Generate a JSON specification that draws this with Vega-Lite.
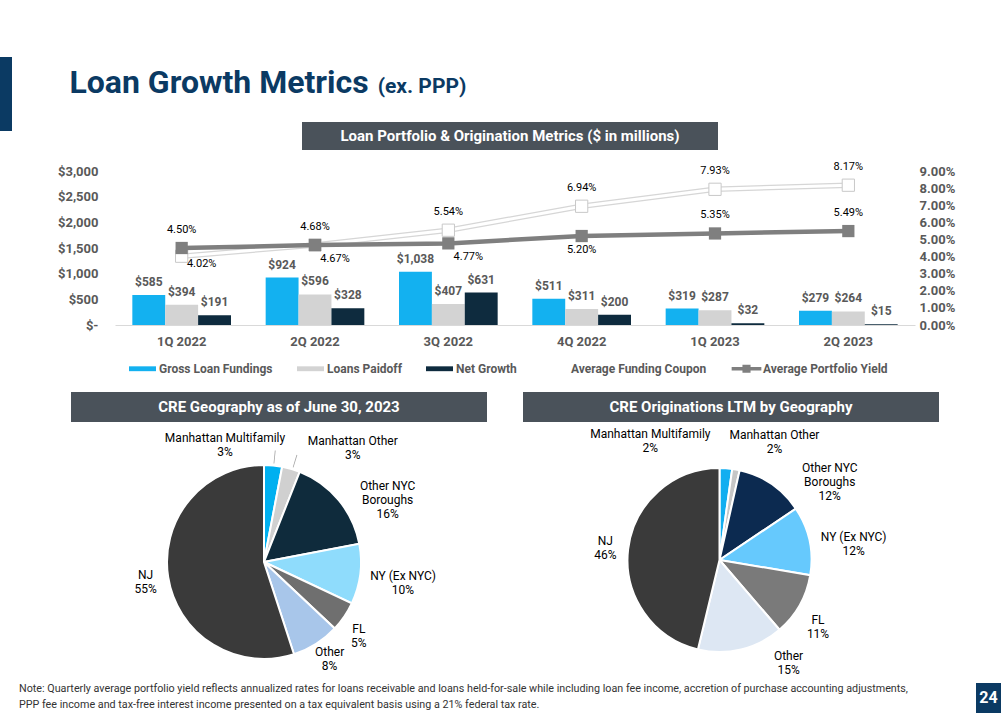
{
  "$schema": "https://vega.github.io/schema/vega-lite/v6.json",
  "background": "#ffffff",
  "padding": 0,
  "spacing": 0,
  "bounds": "flush",
  "resolve": {"scale": {"color": "independent", "theta": "independent", "x": "independent", "y": "independent"}, "legend": {"color": "independent"}},
  "config": {
    "font": "Roboto",
    "view": {"stroke": null},
    "style": {
      "pielbl": {"fontSize": 12, "fill": "#404040", "lineBreak": "\n", "lineHeight": 14, "baseline": "middle", "align": "center"},
      "ratelbl": {"fontSize": 11, "fill": "#595959", "baseline": "middle", "align": "center"}
    }
  },
  "datasets": {
    "bars": [
      {"q": "1Q 2022", "s": "Gross Loan Fundings", "v": 585},
      {"q": "1Q 2022", "s": "Loans Paidoff", "v": 394},
      {"q": "1Q 2022", "s": "Net Growth", "v": 191},
      {"q": "2Q 2022", "s": "Gross Loan Fundings", "v": 924},
      {"q": "2Q 2022", "s": "Loans Paidoff", "v": 596},
      {"q": "2Q 2022", "s": "Net Growth", "v": 328},
      {"q": "3Q 2022", "s": "Gross Loan Fundings", "v": 1038},
      {"q": "3Q 2022", "s": "Loans Paidoff", "v": 407},
      {"q": "3Q 2022", "s": "Net Growth", "v": 631},
      {"q": "4Q 2022", "s": "Gross Loan Fundings", "v": 511},
      {"q": "4Q 2022", "s": "Loans Paidoff", "v": 311},
      {"q": "4Q 2022", "s": "Net Growth", "v": 200},
      {"q": "1Q 2023", "s": "Gross Loan Fundings", "v": 319},
      {"q": "1Q 2023", "s": "Loans Paidoff", "v": 287},
      {"q": "1Q 2023", "s": "Net Growth", "v": 32},
      {"q": "2Q 2023", "s": "Gross Loan Fundings", "v": 279},
      {"q": "2Q 2023", "s": "Loans Paidoff", "v": 264},
      {"q": "2Q 2023", "s": "Net Growth", "v": 15}
    ],
    "rates": [
      {"q": "1Q 2022", "s": "Average Funding Coupon", "r": 0.0402},
      {"q": "2Q 2022", "s": "Average Funding Coupon", "r": 0.0468},
      {"q": "3Q 2022", "s": "Average Funding Coupon", "r": 0.0554},
      {"q": "4Q 2022", "s": "Average Funding Coupon", "r": 0.0694},
      {"q": "1Q 2023", "s": "Average Funding Coupon", "r": 0.0793},
      {"q": "2Q 2023", "s": "Average Funding Coupon", "r": 0.0817},
      {"q": "1Q 2022", "s": "Average Portfolio Yield", "r": 0.0450},
      {"q": "2Q 2022", "s": "Average Portfolio Yield", "r": 0.0467},
      {"q": "3Q 2022", "s": "Average Portfolio Yield", "r": 0.0477},
      {"q": "4Q 2022", "s": "Average Portfolio Yield", "r": 0.0520},
      {"q": "1Q 2023", "s": "Average Portfolio Yield", "r": 0.0535},
      {"q": "2Q 2023", "s": "Average Portfolio Yield", "r": 0.0549}
    ],
    "pie1": [
      {"r": "Manhattan Multifamily", "lbl": "Manhattan Multifamily\n3%", "v": 3, "o": 1},
      {"r": "Manhattan Other", "lbl": "Manhattan Other\n3%", "v": 3, "o": 2},
      {"r": "Other NYC Boroughs", "lbl": "Other NYC\nBoroughs\n16%", "v": 16, "o": 3},
      {"r": "NY (Ex NYC)", "lbl": "NY (Ex NYC)\n10%", "v": 10, "o": 4},
      {"r": "FL", "lbl": "FL\n5%", "v": 5, "o": 5},
      {"r": "Other", "lbl": "Other\n8%", "v": 8, "o": 6},
      {"r": "NJ", "lbl": "NJ\n55%", "v": 55, "o": 7}
    ],
    "pie2": [
      {"r": "Manhattan Multifamily", "lbl": "Manhattan Multifamily\n2%", "v": 2.2, "o": 1},
      {"r": "Manhattan Other", "lbl": "Manhattan Other\n2%", "v": 1.3, "o": 2},
      {"r": "Other NYC Boroughs", "lbl": "Other NYC\nBoroughs\n12%", "v": 12, "o": 3},
      {"r": "NY (Ex NYC)", "lbl": "NY (Ex NYC)\n12%", "v": 12, "o": 4},
      {"r": "FL", "lbl": "FL\n11%", "v": 11, "o": 5},
      {"r": "Other", "lbl": "Other\n15%", "v": 15, "o": 6},
      {"r": "NJ", "lbl": "NJ\n46%", "v": 46, "o": 7}
    ]
  },
  "vconcat": [
    {"vconcat": [
      {"width": 1, "height": 57, "data": {"values": []}, "mark": "point"},
      {"width": 12, "height": 74, "view": {"fill": "#0b3a63"}, "data": {"values": []}, "mark": "point"}
    ], "spacing": 0, "bounds": "flush"},

    {"concat": [
      {"width": 70, "height": 60, "data": {"values": []}, "mark": "point"},
      {"width": 1, "height": 1, "data": {"values": []}, "mark": "point"},
      {"width": 1, "height": 1, "data": {"values": []}, "mark": "point"},
      {"width": 298, "height": 66, "data": {"values": [{"t": "Loan Growth Metrics"}]},
       "mark": {"type": "text", "fontSize": 32, "fontWeight": "bold", "color": "#0b3a63", "baseline": "alphabetic", "align": "center"},
       "encoding": {"text": {"field": "t", "type": "nominal"}}}
    ], "columns": 2, "spacing": 0, "bounds": "flush", "align": "each"},

    {"concat": [
      {"width": 368, "height": 60, "data": {"values": []}, "mark": "point"},
      {"width": 1, "height": 1, "data": {"values": []}, "mark": "point"},
      {"width": 1, "height": 1, "data": {"values": []}, "mark": "point"},
      {"width": 108, "height": 66, "data": {"values": [{"t": "(ex. PPP)"}]},
       "mark": {"type": "text", "fontSize": 21, "fontWeight": "bold", "color": "#0b3a63", "baseline": "alphabetic", "align": "center"},
       "encoding": {"text": {"field": "t", "type": "nominal"}}}
    ], "columns": 2, "spacing": 0, "bounds": "flush", "align": "each"},

    {"concat": [
      {"width": 302, "height": 122, "data": {"values": []}, "mark": "point"},
      {"width": 1, "height": 1, "data": {"values": []}, "mark": "point"},
      {"width": 1, "height": 1, "data": {"values": []}, "mark": "point"},
      {"width": 416, "height": 28, "view": {"fill": "#4a525a"}, "data": {"values": [{"t": "Loan Portfolio & Origination Metrics ($ in millions)"}]},
       "mark": {"type": "text", "fontSize": 15, "fontWeight": "bold", "color": "#ffffff", "baseline": "middle"},
       "encoding": {"text": {"field": "t", "type": "nominal"}}}
    ], "columns": 2, "spacing": 0, "bounds": "flush", "align": "each"},

    {"concat": [
      {"width": 115, "height": 171, "data": {"values": []}, "mark": "point"},
      {"width": 1, "height": 1, "data": {"values": []}, "mark": "point"},
      {"width": 1, "height": 1, "data": {"values": []}, "mark": "point"},
      {
        "width": 800,
        "height": 154,
        "layer": [
          {
            "data": {"name": "bars"},
            "encoding": {
              "x": {"field": "q", "type": "nominal",
                    "scale": {"domain": ["1Q 2022", "2Q 2022", "3Q 2022", "4Q 2022", "1Q 2023", "2Q 2023"], "paddingInner": 0.26, "paddingOuter": 0.13},
                    "axis": {"title": null, "ticks": false, "domainColor": "#d9d9d9", "labelPadding": 10, "labelAngle": 0, "labelFontSize": 13, "labelFontWeight": "bold", "labelColor": "#595959"}},
              "xOffset": {"field": "s", "type": "nominal", "scale": {"domain": ["Gross Loan Fundings", "Loans Paidoff", "Net Growth"], "paddingInner": 0, "paddingOuter": 0}},
              "y": {"field": "v", "type": "quantitative", "scale": {"domain": [0, 3000], "nice": false},
                    "axis": {"title": null, "values": [0, 500, 1000, 1500, 2000, 2500, 3000], "labelExpr": "datum.value === 0 ? '$-' : '$' + format(datum.value, ',')", "ticks": false, "domain": false, "grid": false, "labelPadding": 17, "labelFontSize": 13, "labelFontWeight": "bold", "labelColor": "#595959"}}
            },
            "layer": [
              {
                "mark": {"type": "bar"},
                "encoding": {
                  "color": {"field": "s", "type": "nominal",
                    "scale": {"domain": ["Gross Loan Fundings", "Loans Paidoff", "Net Growth", "Average Funding Coupon", "Average Portfolio Yield"],
                              "range": ["#13b1f0", "#d3d3d3", "#0e2b3e", "#ffffff", "#7f7f7f"]},
                    "legend": {"orient": "none", "legendX": 129, "legendY": 355, "direction": "horizontal", "title": null,
                               "symbolType": "M-1,-0.18H1V0.18H-1Z", "symbolSize": 729, "symbolStrokeWidth": 0,
                               "labelFontSize": 12, "labelFontWeight": "bold", "labelColor": "#595959", "labelOffset": 3, "columnPadding": 24,
                               "encode": {"symbols": {"update": {"shape": {"signal": "datum.value === 'Average Portfolio Yield' ? 'M-1.1,-0.13H1.1V0.13H-1.1ZM-0.3,-0.3H0.3V0.3H-0.3Z' : 'M-1,-0.18H1V0.18H-1Z'"}}}}}
                  }
                }
              },
              {
                "mark": {"type": "text", "baseline": "alphabetic", "dy": -9, "fontSize": 12, "fontWeight": "bold", "color": "#595959"},
                "encoding": {"text": {"field": "v", "type": "quantitative", "format": "$,d"}}
              }
            ]
          },
          {
            "data": {"name": "rates"},
            "encoding": {
              "x": {"field": "q", "type": "nominal",
                    "scale": {"domain": ["1Q 2022", "2Q 2022", "3Q 2022", "4Q 2022", "1Q 2023", "2Q 2023"], "paddingInner": 0.26, "paddingOuter": 0.13},
                    "axis": {"title": null, "ticks": false, "domainColor": "#d9d9d9", "labelPadding": 10, "labelAngle": 0, "labelFontSize": 13, "labelFontWeight": "bold", "labelColor": "#595959"}},
              "y": {"field": "r", "type": "quantitative", "scale": {"domain": [0, 0.09], "nice": false},
                    "axis": {"orient": "right", "title": null, "values": [0, 0.01, 0.02, 0.03, 0.04, 0.05, 0.06, 0.07, 0.08, 0.09], "format": ".2%", "ticks": false, "domain": false, "grid": false, "labelPadding": 4, "labelFontSize": 13, "labelFontWeight": "bold", "labelColor": "#595959"}}
            },
            "layer": [
              {"transform": [{"filter": "datum.s === 'Average Funding Coupon'"}], "mark": {"type": "line", "color": "#d6d6d6", "strokeWidth": 5.5}},
              {"transform": [{"filter": "datum.s === 'Average Funding Coupon'"}], "mark": {"type": "line", "color": "#ffffff", "strokeWidth": 3}},
              {"transform": [{"filter": "datum.s === 'Average Funding Coupon'"}], "mark": {"type": "point", "shape": "square", "filled": true, "fill": "#ffffff", "stroke": "#c8c8c8", "strokeWidth": 1, "size": 150, "opacity": 1}},
              {"transform": [{"filter": "datum.s === 'Average Portfolio Yield'"}], "mark": {"type": "line", "color": "#7f7f7f", "strokeWidth": 4.5}},
              {"transform": [{"filter": "datum.s === 'Average Portfolio Yield'"}], "mark": {"type": "point", "shape": "square", "filled": true, "color": "#7f7f7f", "size": 150, "opacity": 1}},
              {"transform": [{"filter": "datum.s === 'Average Funding Coupon' && datum.q !== '1Q 2022'"}],
               "mark": {"type": "text", "style": "ratelbl", "dy": -18}, "encoding": {"text": {"field": "r", "type": "quantitative", "format": ".2%"}}},
              {"transform": [{"filter": "datum.s === 'Average Funding Coupon' && datum.q === '1Q 2022'"}],
               "mark": {"type": "text", "style": "ratelbl", "dx": 20, "dy": 8}, "encoding": {"text": {"field": "r", "type": "quantitative", "format": ".2%"}}},
              {"transform": [{"filter": "datum.s === 'Average Portfolio Yield' && (datum.q === '1Q 2022' || datum.q === '1Q 2023' || datum.q === '2Q 2023')"}],
               "mark": {"type": "text", "style": "ratelbl", "dy": -18}, "encoding": {"text": {"field": "r", "type": "quantitative", "format": ".2%"}}},
              {"transform": [{"filter": "datum.s === 'Average Portfolio Yield' && (datum.q === '2Q 2022' || datum.q === '3Q 2022')"}],
               "mark": {"type": "text", "style": "ratelbl", "dx": 20, "dy": 14}, "encoding": {"text": {"field": "r", "type": "quantitative", "format": ".2%"}}},
              {"transform": [{"filter": "datum.s === 'Average Portfolio Yield' && datum.q === '4Q 2022'"}],
               "mark": {"type": "text", "style": "ratelbl", "dy": 14}, "encoding": {"text": {"field": "r", "type": "quantitative", "format": ".2%"}}}
            ]
          }
        ],
        "resolve": {"scale": {"y": "independent"}}
      }
    ], "columns": 2, "spacing": 0, "bounds": "flush", "align": "each"},

    {"concat": [
      {"width": 71, "height": 392, "data": {"values": []}, "mark": "point"},
      {"width": 1, "height": 1, "data": {"values": []}, "mark": "point"},
      {"width": 1, "height": 1, "data": {"values": []}, "mark": "point"},
      {"width": 416, "height": 30, "view": {"fill": "#4a525a"}, "data": {"values": [{"t": "CRE Geography as of June 30, 2023"}]},
       "mark": {"type": "text", "fontSize": 15, "fontWeight": "bold", "color": "#ffffff", "baseline": "middle"},
       "encoding": {"text": {"field": "t", "type": "nominal"}}}
    ], "columns": 2, "spacing": 0, "bounds": "flush", "align": "each"},

    {"concat": [
      {"width": 523, "height": 392, "data": {"values": []}, "mark": "point"},
      {"width": 1, "height": 1, "data": {"values": []}, "mark": "point"},
      {"width": 1, "height": 1, "data": {"values": []}, "mark": "point"},
      {"width": 416, "height": 30, "view": {"fill": "#4a525a"}, "data": {"values": [{"t": "CRE Originations LTM by Geography"}]},
       "mark": {"type": "text", "fontSize": 15, "fontWeight": "bold", "color": "#ffffff", "baseline": "middle"},
       "encoding": {"text": {"field": "t", "type": "nominal"}}}
    ], "columns": 2, "spacing": 0, "bounds": "flush", "align": "each"},

    {"concat": [
      {"width": 71, "height": 465, "data": {"values": []}, "mark": "point"},
      {"width": 1, "height": 1, "data": {"values": []}, "mark": "point"},
      {"width": 1, "height": 1, "data": {"values": []}, "mark": "point"},
      {
        "width": 386,
        "height": 194,
        "data": {"name": "pie1"},
        "layer": [
          {"mark": {"type": "arc", "stroke": "#ffffff", "strokeWidth": 2},
           "encoding": {"theta": {"field": "v", "type": "quantitative", "stack": true},
                        "order": {"field": "o", "type": "quantitative"},
                        "color": {"field": "r", "type": "nominal",
                                  "scale": {"domain": ["Manhattan Multifamily", "Manhattan Other", "Other NYC Boroughs", "NY (Ex NYC)", "FL", "Other", "NJ"],
                                            "range": ["#00b0f0", "#d0d0d0", "#0f2b3c", "#8fdcfc", "#6f6f6f", "#a8c6ea", "#3a3a3a"]},
                                  "legend": null}}},
          {
            "transform": [
              {"stack": "v", "groupby": [], "sort": [{"field": "o", "order": "ascending"}], "as": ["a0", "a1"]},
              {"calculate": "(datum.a0 + datum.a1) / 2", "as": "am"},
              {"filter": "datum.r === 'Manhattan Multifamily' || datum.r === 'Manhattan Other'"},
              {"calculate": "datum.am + (datum.r === 'Manhattan Other' ? 0.25 : 0.1) - 0.06", "as": "l0"},
              {"calculate": "datum.am + (datum.r === 'Manhattan Other' ? 0.25 : 0.1) + 0.06", "as": "l1"}
            ],
            "mark": {"type": "arc", "innerRadius": 99, "outerRadius": 112, "color": "#a6a6a6"},
            "encoding": {"theta": {"field": "l0", "type": "quantitative"}, "theta2": {"field": "l1"}}
          },
          {
            "transform": [
              {"stack": "v", "groupby": [], "sort": [{"field": "o", "order": "ascending"}], "as": ["a0", "a1"]},
              {"calculate": "(datum.a0 + datum.a1) / 2", "as": "am"}
            ],
            "encoding": {"theta": {"field": "am", "type": "quantitative"}, "text": {"field": "lbl", "type": "nominal"}},
            "layer": [
              {"transform": [{"filter": "datum.r === 'Manhattan Multifamily'"}], "mark": {"type": "text", "style": "pielbl", "radius": 128, "dx": -51, "dy": 3}},
              {"transform": [{"filter": "datum.r === 'Manhattan Other'"}], "mark": {"type": "text", "style": "pielbl", "radius": 128, "dx": 53, "dy": 2}},
              {"transform": [{"filter": "datum.r === 'Other NYC Boroughs'"}], "mark": {"type": "text", "style": "pielbl", "radius": 128, "dx": 25, "dy": 6}},
              {"transform": [{"filter": "datum.r === 'NY (Ex NYC)'"}], "mark": {"type": "text", "style": "pielbl", "radius": 128, "dx": 12, "dy": -2}},
              {"transform": [{"filter": "datum.r === 'FL'"}], "mark": {"type": "text", "style": "pielbl", "radius": 128, "dx": -11, "dy": -5}},
              {"transform": [{"filter": "datum.r === 'Other'"}], "mark": {"type": "text", "style": "pielbl", "radius": 128, "dx": -3, "dy": -18}},
              {"transform": [{"filter": "datum.r === 'NJ'"}], "mark": {"type": "text", "style": "pielbl", "radius": 128, "dx": 8, "dy": -7}}
            ]
          }
        ]
      }
    ], "columns": 2, "spacing": 0, "bounds": "flush", "align": "each"},

    {"concat": [
      {"width": 523, "height": 468, "data": {"values": []}, "mark": "point"},
      {"width": 1, "height": 1, "data": {"values": []}, "mark": "point"},
      {"width": 1, "height": 1, "data": {"values": []}, "mark": "point"},
      {
        "width": 393,
        "height": 184,
        "data": {"name": "pie2"},
        "layer": [
          {"mark": {"type": "arc", "stroke": "#ffffff", "strokeWidth": 2},
           "encoding": {"theta": {"field": "v", "type": "quantitative", "stack": true},
                        "order": {"field": "o", "type": "quantitative"},
                        "color": {"field": "r", "type": "nominal",
                                  "scale": {"domain": ["Manhattan Multifamily", "Manhattan Other", "Other NYC Boroughs", "NY (Ex NYC)", "FL", "Other", "NJ"],
                                            "range": ["#12aef0", "#c6c6c6", "#0c2a50", "#66c9fd", "#7a7a7a", "#dde7f3", "#3a3a3a"]},
                                  "legend": null}}},
          {
            "transform": [
              {"stack": "v", "groupby": [], "sort": [{"field": "o", "order": "ascending"}], "as": ["a0", "a1"]},
              {"calculate": "(datum.a0 + datum.a1) / 2", "as": "am"}
            ],
            "encoding": {"theta": {"field": "am", "type": "quantitative"}, "text": {"field": "lbl", "type": "nominal"}},
            "layer": [
              {"transform": [{"filter": "datum.r === 'Manhattan Multifamily'"}], "mark": {"type": "text", "style": "pielbl", "radius": 128, "dx": -78, "dy": 2}},
              {"transform": [{"filter": "datum.r === 'Manhattan Other'"}], "mark": {"type": "text", "style": "pielbl", "radius": 128, "dx": 32, "dy": 1}},
              {"transform": [{"filter": "datum.r === 'Other NYC Boroughs'"}], "mark": {"type": "text", "style": "pielbl", "radius": 128, "dx": 38, "dy": 14}},
              {"transform": [{"filter": "datum.r === 'NY (Ex NYC)'"}], "mark": {"type": "text", "style": "pielbl", "radius": 128, "dx": 9, "dy": 4}},
              {"transform": [{"filter": "datum.r === 'FL'"}], "mark": {"type": "text", "style": "pielbl", "radius": 128, "dx": -13, "dy": -3}},
              {"transform": [{"filter": "datum.r === 'Other'"}], "mark": {"type": "text", "style": "pielbl", "radius": 128, "dx": 39, "dy": -28}},
              {"transform": [{"filter": "datum.r === 'NJ'"}], "mark": {"type": "text", "style": "pielbl", "radius": 128, "dx": 13, "dy": -4}}
            ]
          }
        ]
      }
    ], "columns": 2, "spacing": 0, "bounds": "flush", "align": "each"},

    {"concat": [
      {"width": 19, "height": 659, "data": {"values": []}, "mark": "point"},
      {"width": 1, "height": 1, "data": {"values": []}, "mark": "point"},
      {"width": 1, "height": 1, "data": {"values": []}, "mark": "point"},
      {"width": 1, "height": 50, "data": {"values": [{"t": "Note: Quarterly average portfolio yield reflects annualized rates for loans receivable and loans held-for-sale while including loan fee income, accretion of purchase accounting adjustments,\nPPP fee income and tax-free interest income presented on a tax equivalent basis using a 21% federal tax rate."}]},
       "mark": {"type": "text", "align": "left", "baseline": "top", "fontSize": 10.75, "lineHeight": 16, "lineBreak": "\n", "color": "#333333", "dx": -0.5, "dy": 0},
       "encoding": {"text": {"field": "t", "type": "nominal"}}}
    ], "columns": 2, "spacing": 0, "bounds": "flush", "align": "each"},

    {"concat": [
      {"width": 976, "height": 683, "data": {"values": []}, "mark": "point"},
      {"width": 1, "height": 1, "data": {"values": []}, "mark": "point"},
      {"width": 1, "height": 1, "data": {"values": []}, "mark": "point"},
      {"width": 25, "height": 30, "view": {"fill": "#0b3a63"}, "data": {"values": [{"t": "24"}]},
       "mark": {"type": "text", "fontSize": 16, "fontWeight": "bold", "color": "#ffffff", "baseline": "middle"},
       "encoding": {"text": {"field": "t", "type": "nominal"}}}
    ], "columns": 2, "spacing": 0, "bounds": "flush", "align": "each"},

    {"width": 1008, "height": 720, "data": {"values": []}, "mark": "point"}
  ]
}
